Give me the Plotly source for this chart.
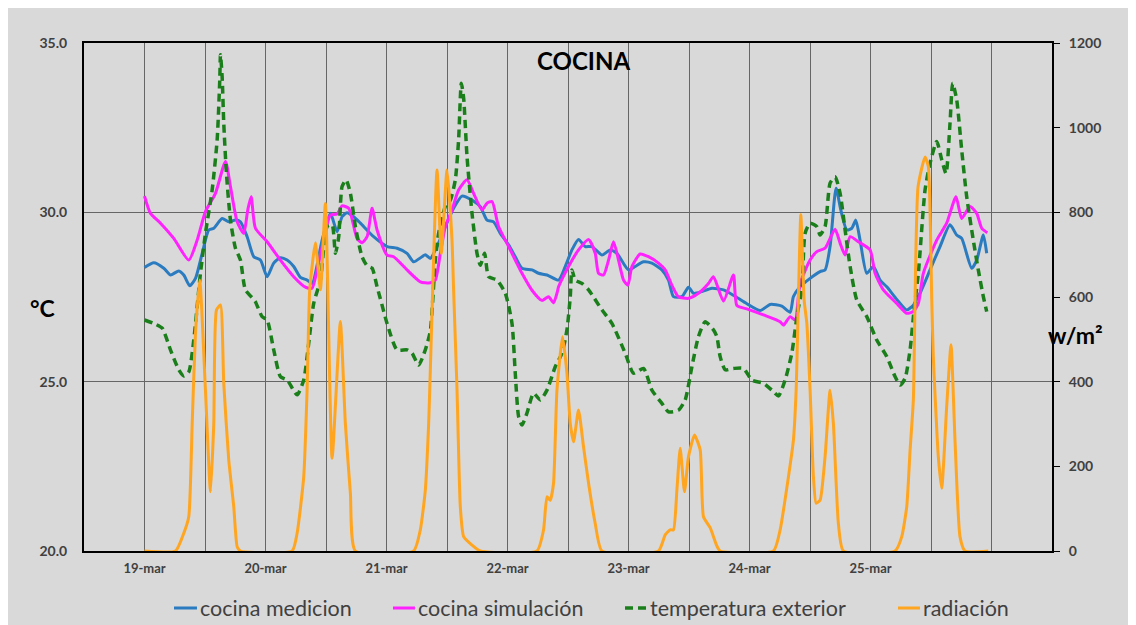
import plotly.graph_objects as go

# ---- data (hours since 19-mar 00:00) ----
t_med = [0, 1.84, 3.83, 5.15, 6.80, 7.79, 8.98, 10.11, 11.44, 12.75, 13.74, 15.40, 16.71, 18.04, 19.03, 20.36,
         21.67, 22.99, 24.32, 25.63, 26.96, 28.29, 29.60, 30.92, 32.25, 33.24, 35.23, 36.87, 38.20, 39.19, 40.18,
         41.49, 42.82, 45.45, 48.11, 50.09, 52.07, 53.38, 55.05, 55.70, 56.69, 58.02, 59.67, 61.31, 62.98, 64.96,
         66.61, 67.93, 69.24, 70.57, 72.22, 73.54, 74.87, 76.85, 78.16, 79.83, 82.13, 83.45, 84.78, 86.09, 87.42,
         88.75, 90.73, 92.38, 93.70, 96.00, 97.33, 98.98, 100.64, 102.62, 103.93, 104.92, 106.59, 107.90, 108.89,
         110.55, 112.54, 114.84, 116.82, 119.48, 122.12, 124.10, 126.41, 128.06, 128.71, 130.04, 132.02, 134.00,
         134.99, 135.98, 137.17, 138.11, 139.30, 140.29, 141.08, 141.93, 143.26, 144.57, 145.90, 147.23, 149.21,
         151.19, 152.50, 153.43, 153.82, 155.81, 157.79, 159.77, 161.10, 162.09, 164.07, 165.07, 166.38, 167.05]
v_med = [28.37, 28.51, 28.35, 28.15, 28.27, 28.15, 27.83, 28.05, 28.79, 29.48, 29.53, 29.82, 29.72, 29.77, 29.72, 29.28,
         28.69, 28.59, 28.10, 28.50, 28.66, 28.59, 28.40, 28.08, 28.00, 27.90, 29.18, 29.97, 29.43, 29.87, 29.99,
         29.87, 29.68, 29.28, 28.99, 28.94, 28.79, 28.54, 28.69, 28.75, 28.64, 28.99, 29.58, 30.12, 30.48, 30.36,
         30.17, 29.77, 29.72, 29.38, 29.04, 28.69, 28.35, 28.30, 28.20, 28.15, 28.00, 28.40, 28.89, 29.20, 28.99,
         28.99, 28.74, 28.89, 28.79, 28.30, 28.40, 28.54, 28.50, 28.30, 28.00, 27.51, 27.51, 27.79, 27.61,
         27.66, 27.76, 27.71, 27.55, 27.30, 27.10, 27.28, 27.23, 27.05, 27.51, 27.80, 28.05, 28.25,
         28.30, 28.99, 30.71, 30.07, 29.48, 29.53, 29.77, 29.18, 28.20, 28.40, 28.00, 27.80, 27.43,
         27.12, 27.26, 27.51, 27.61, 28.30, 28.99, 29.63, 29.33, 29.23, 28.35, 28.59, 29.33, 28.79]

t_sim = [0, 1.19, 3.17, 5.81, 8.78, 10.45, 12.09, 14.07, 16.06, 17.05, 18.38, 19.68, 20.48, 21.15, 22.00, 24.32,
         26.96, 29.60, 31.92, 33.24, 34.23, 35.54, 36.87, 38.20, 39.19, 40.50, 42.16, 43.15, 44.15, 45.14, 46.13,
         48.11, 49.42, 52.07, 54.71, 56.69, 57.68, 58.68, 59.67, 60.99, 62.30, 63.97, 65.28, 66.94, 67.93, 68.93,
         70.23, 72.22, 73.54, 74.87, 76.85, 78.83, 80.14, 81.13, 81.81, 82.13, 84.11, 86.09, 88.08, 89.40, 90.06,
         91.05, 92.04, 93.03, 94.02, 95.01, 95.88, 96.68, 98.32, 99.97, 101.95, 103.28, 104.60, 105.91, 107.90,
         109.88, 111.86, 112.85, 114.84, 116.82, 117.50, 119.48, 122.77, 126.08, 126.73, 128.06, 129.05, 130.04,
         132.02, 133.35, 134.99, 136.97, 137.97, 138.96, 139.96, 141.60, 143.91, 144.91, 146.55, 149.21, 151.19,
         152.50, 153.49, 154.48, 157.14, 159.11, 160.96, 162.09, 163.74, 165.07, 166.06, 167.17]
v_sim = [30.48, 29.97, 29.68, 29.23, 28.59, 29.18, 30.02, 30.56, 31.50, 30.76, 29.72, 29.38, 30.07, 30.46, 29.53, 29.13,
         28.59, 28.10, 27.79, 27.76, 28.30, 29.18, 29.92, 29.95, 30.19, 30.12, 29.23, 29.10, 29.28, 30.12, 29.48,
         28.74, 28.69, 28.30, 27.95, 27.92, 28.00, 28.79, 29.58, 30.07, 30.66, 30.96, 30.56, 30.07, 30.27, 30.32,
         29.58, 28.99, 28.59, 28.20, 27.70, 27.40, 27.51, 27.33, 27.61, 27.80, 28.40, 28.89, 29.20, 28.79, 28.20,
         28.15, 28.59, 29.13, 28.59, 28.00, 27.85, 28.40, 28.77, 28.69, 28.50, 28.30, 27.85, 27.51, 27.46,
         27.61, 27.90, 28.10, 27.38, 28.15, 27.25, 27.15, 26.97, 26.77, 26.67, 26.92, 26.82, 27.90,
         28.59, 28.84, 28.94, 29.50, 29.09, 28.74, 29.28, 29.13, 28.89, 28.20, 27.71, 27.31, 27.02,
         27.07, 27.31, 28.20, 29.18, 29.68, 30.46, 29.82, 30.17, 29.97, 29.53, 29.40]

t_ext = [0, 1.84, 3.51, 5.15, 6.80, 7.79, 8.78, 9.77, 10.76, 11.10, 12.09, 13.42, 14.41, 14.93, 15.07, 15.40, 15.72,
         16.25, 17.05, 18.04, 19.03, 20.02, 21.67, 22.00, 23.33, 24.32, 25.63, 26.96, 28.29, 30.27, 31.58, 32.57,
         33.56, 34.89, 36.22, 37.21, 37.86, 38.52, 39.19, 39.98, 40.84, 41.83, 43.15, 44.15, 45.14, 46.13, 46.78,
         48.11, 50.09, 52.07, 53.07, 54.37, 55.70, 56.69, 57.68, 58.34, 59.67, 60.66, 61.65, 62.30, 62.84, 63.30,
         63.97, 64.96, 65.95, 66.61, 67.46, 68.25, 69.92, 71.56, 72.89, 73.54, 74.20, 74.87, 75.86, 77.17, 78.50,
         79.83, 81.47, 82.80, 83.79, 84.45, 84.78, 85.44, 86.77, 88.08, 90.73, 92.71, 95.35, 96.99, 98.98, 100.64,
         102.62, 103.93, 105.91, 107.24, 108.57, 109.88, 111.21, 112.85, 113.53, 114.18, 115.18, 116.82, 118.81,
         120.47, 122.77, 124.43, 125.74, 127.07, 128.39, 129.50, 130.38, 131.03, 132.02, 133.35, 134.00, 134.99,
         135.98, 136.97, 137.97, 138.96, 139.96, 141.28, 143.26, 145.24, 147.23, 148.87, 149.86, 150.86, 151.85,
         152.64, 153.49, 154.82, 155.81, 157.14, 158.13, 158.98, 159.77, 160.31, 161.10, 162.09, 163.08, 164.39,
         165.38, 166.38, 167.05]
v_ext = [26.82, 26.72, 26.58, 25.94, 25.35, 25.17, 25.29, 26.23, 27.71, 28.20, 29.38, 30.66, 32.14, 33.91, 34.65, 34.00, 32.63,
         31.15, 29.77, 28.94, 28.59, 27.71, 27.43, 27.36, 26.92, 26.82, 25.94, 25.15, 25.05, 24.61, 25.05, 26.13,
         27.31, 28.00, 29.58, 29.63, 28.79, 29.28, 30.76, 30.96, 30.56, 29.58, 28.69, 28.42, 28.35, 27.80, 27.45,
         26.72, 25.94, 25.94, 25.84, 25.49, 25.94, 26.50, 28.59, 29.38, 30.17, 30.36, 30.96, 32.14, 33.81, 33.37,
         31.64, 29.97, 28.79, 28.44, 28.79, 28.10, 28.00, 27.61, 26.72, 25.25, 23.97, 23.72, 24.07, 24.66, 24.46,
         24.75, 25.44, 25.84, 26.53, 27.51, 28.30, 28.00, 27.90, 27.71, 27.12, 26.72, 25.84, 25.25, 25.39, 24.75,
         24.36, 24.11, 24.16, 24.46, 25.44, 26.33, 26.77, 26.53, 26.33, 25.74, 25.35, 25.39, 25.39,
         25.05, 24.95, 24.75, 24.58, 25.05, 25.84, 27.02, 27.71, 29.38, 29.68, 29.58, 29.33, 29.58,
         30.86, 31.05, 30.56, 29.48, 28.40, 27.41, 26.92, 26.23, 25.74, 25.15, 24.90, 25.10, 25.94,
         27.12, 28.20, 30.66, 31.45, 32.09, 31.55, 31.15, 32.63, 33.81, 33.32, 31.84, 30.46, 29.18,
         28.30, 27.51, 27.07]

t_rad = [0, 6.15, 7.79, 8.78, 9.46, 10.11, 10.96, 12.09, 13.08, 13.74, 14.27, 15.07, 15.72, 16.71, 17.70, 18.38, 19.03,
         29.28, 30.27, 31.58, 32.25, 32.77, 33.90, 34.89, 35.88, 37.21, 38.85, 39.84, 40.84, 41.83,
         53.38, 54.71, 55.70, 56.36, 58.02, 58.87, 60.00, 60.99, 61.31, 61.99, 62.64, 63.30, 64.96, 66.61,
         77.84, 79.15, 79.83, 80.48, 81.13, 81.81, 82.92, 83.79, 84.45, 85.10, 86.09, 87.08, 88.08, 89.40, 90.73,
         101.95, 103.28, 104.27, 104.92, 105.60, 106.25, 107.10, 107.90, 109.09, 110.22, 110.87, 112.20, 113.53, 114.18,
         124.75, 126.08, 127.72, 128.71, 129.25, 130.18, 130.83, 131.37, 132.02, 132.68, 133.21, 134.00, 134.99,
         135.98, 136.64, 137.63, 138.62,
         148.87, 150.20, 151.19, 151.85, 152.50, 153.43, 154.82, 155.47, 156.15, 156.46, 157.45, 158.13, 159.11,
         159.97, 160.76, 161.75, 162.75, 167.36]
v_rad = [0, 0, 42, 81, 301, 514, 640, 380, 140, 301, 569, 581, 396, 215, 105, 10, 0,
         0, 42, 175, 380, 617, 728, 617, 821, 219, 542, 301, 136, 0,
         0, 50, 144, 301, 900, 703, 900, 735, 617, 380, 105, 34, 14, 0,
         0, 50, 128, 120, 160, 380, 506, 420, 301, 258, 333, 246, 160, 65, 0,
         0, 38, 50, 50, 144, 243, 140, 223, 274, 239, 81, 55, 12, 0,
         0, 50, 175, 262, 380, 794, 593, 538, 380, 175, 113, 120, 223,
         380, 301, 65, 0,
         0, 34, 105, 238, 357, 860, 931, 908, 593, 459, 223, 148, 341,
         487, 262, 34, 0, 0]

day_labels = ["19-mar", "20-mar", "21-mar", "22-mar", "23-mar", "24-mar", "25-mar"]
left_ticks = [20, 25, 30, 35]
right_ticks = [0, 200, 400, 600, 800, 1000, 1200]

series_names = ["cocina medicion", "cocina simulación", "temperatura exterior", "radiación"]
series_colors = ["#2a7bc0", "#ff22ff", "#1a7f1a", "#ffa51f"]
series_dash = ["solid", "solid", "8px,5px", "solid"]

FONT = "Lato, 'Open Sans', sans-serif"
TXT = "#404040"
GRID = "#666666"
BG = "#d9d9d9"

fig = go.Figure()
data = [(t_med, v_med, "y"), (t_sim, v_sim, "y"), (t_ext, v_ext, "y"), (t_rad, v_rad, "y2")]
for (tx, vy, ax), nm, col, ds in zip(data, series_names, series_colors, series_dash):
    fig.add_trace(go.Scatter(x=tx, y=vy, name=nm, mode="lines", yaxis=ax, showlegend=False,
                             line=dict(color=col, width=3.5 if ds != "solid" else 3, dash=ds,
                                       shape="spline", smoothing=0.5 if ax == "y2" else 0.6)))

grid_vals = list(range(0, 169, 12))
grid_text = [day_labels[i // 24] if (i % 24 == 0 and i // 24 < len(day_labels)) else "" for i in grid_vals]

# custom legend (line sample + text), positions in plot-area paper units
leg_x0 = [0.0930, 0.3192, 0.5589, 0.8409]
leg_x1 = [0.1167, 0.3419, 0.5816, 0.8636]
leg_y = -0.1122
shapes = []
annotations = []
for x0, x1, nm, col, ds in zip(leg_x0, leg_x1, series_names, series_colors, series_dash):
    shapes.append(dict(type="line", xref="paper", yref="paper", x0=x0, x1=x1, y0=leg_y, y1=leg_y,
                       line=dict(color=col, width=3.5 if ds != "solid" else 3, dash=ds)))
    annotations.append(dict(text=nm, xref="paper", yref="paper", x=x1 + 0.001, y=leg_y, showarrow=False,
                            xanchor="left", yanchor="middle",
                            font=dict(size=21.5, color=TXT, family=FONT)))

annotations += [
    dict(text="<b>COCINA</b>", xref="paper", yref="paper", x=0.5155, y=0.9665, showarrow=False,
         font=dict(size=24, color="black", family=FONT), xanchor="center", yanchor="middle"),
    dict(text="<b>°C</b>", xref="paper", yref="paper", x=-0.0429, y=0.478, showarrow=False,
         font=dict(size=23, color="black", family=FONT), xanchor="center", yanchor="middle"),
    dict(text="<b>w/m²</b>", xref="paper", yref="paper", x=1.0238, y=0.425, showarrow=False,
         xshift=-29, font=dict(size=23, color="black", family=FONT), xanchor="left", yanchor="middle"),
]

fig.update_layout(
    width=1136, height=625,
    margin=dict(l=76, r=92, t=35, b=82),
    paper_bgcolor=BG,
    plot_bgcolor=BG,
    font=dict(family=FONT, color=TXT),
    showlegend=False,
    xaxis=dict(range=[-12, 180], tickvals=grid_vals, ticktext=grid_text, showgrid=True,
               gridcolor=GRID, gridwidth=1, zeroline=False, showline=True, linecolor="black",
               linewidth=2, mirror=True, ticks="", ticklabelstandoff=4,
               tickfont=dict(size=13, color=TXT, family=FONT, weight="bold")),
    yaxis=dict(range=[20, 35], tickvals=left_ticks, tickformat=".1f", showgrid=True,
               gridcolor=GRID, gridwidth=1, zeroline=False, showline=True, linecolor="black",
               linewidth=2, mirror=True, ticks="", ticklabelstandoff=12,
               tickfont=dict(size=14, color=TXT, family=FONT, weight="bold")),
    yaxis2=dict(range=[0, 1200], tickvals=right_ticks, overlaying="y", side="right",
                showgrid=False, zeroline=False, showline=True, linecolor="black", linewidth=2,
                ticks="outside", ticklen=6, tickcolor="black", ticklabelstandoff=6,
                tickfont=dict(size=14, color=TXT, family=FONT, weight="bold")),
    shapes=shapes,
    annotations=annotations,
)

fig.write_html("out.html")
